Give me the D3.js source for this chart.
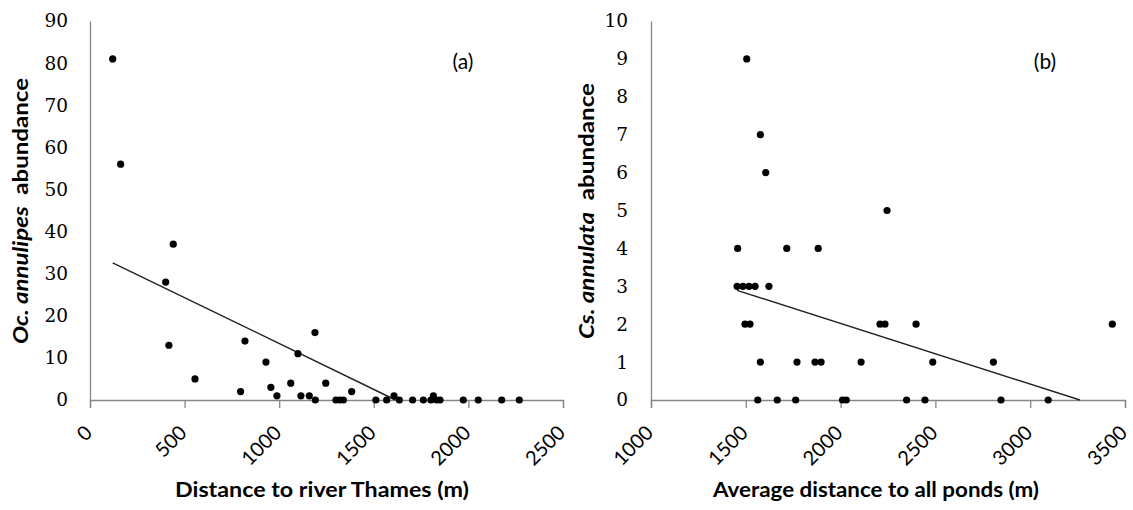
<!DOCTYPE html>
<html>
<head>
<meta charset="utf-8">
<script src="https://cdn.jsdelivr.net/npm/d3@7/dist/d3.min.js"></script>
<style>
  html, body { margin: 0; padding: 0; background: #fff; }
  svg { display: block; }
</style>
</head>
<body>
<svg id="chart" width="1133" height="510"></svg>
<script>
// Panel (a): Oc. annulipes abundance vs distance to river Thames (m)
const thamesDistance = [120, 162, 440, 400, 417, 555, 819, 796, 930, 956, 988, 1061, 1099, 1189, 1115, 1159, 1191, 1246, 1300, 1321, 1339, 1383, 1511, 1568, 1607, 1635, 1705, 1762, 1802, 1815, 1832, 1850, 1973, 2052, 2176, 2269];
const ocAbundance    = [81, 56, 37, 28, 13, 5, 14, 2, 9, 3, 1, 4, 11, 16, 1, 1, 0, 4, 0, 0, 0, 2, 0, 0, 1, 0, 0, 0, 0, 1, 0, 0, 0, 0, 0, 0];
const trendA = { intercept: 35.2, slope: -0.0218 };
const xTicksA = [0, 500, 1000, 1500, 2000, 2500];
const yTicksA = [0, 10, 20, 30, 40, 50, 60, 70, 80, 90];

// Panel (b): Cs. annulata abundance vs average distance to all ponds (m)
const pondDistance = [1505, 1577, 1605, 2245, 1457, 1716, 1882, 1454, 1485, 1517, 1549, 1622, 1496, 1522, 2208, 2234, 2398, 3433, 1577, 1770, 1865, 1897, 2108, 2486, 2806, 1563, 1666, 1763, 2010, 2030, 2348, 2445, 2846, 3095];
const csAbundance  = [9, 7, 6, 5, 4, 4, 4, 3, 3, 3, 3, 3, 2, 2, 2, 2, 2, 2, 1, 1, 1, 1, 1, 1, 1, 0, 0, 0, 0, 0, 0, 0, 0, 0];
const trendB = { intercept: 5.22, slope: -0.0016 };
const xTicksB = [1000, 1500, 2000, 2500, 3000, 3500];
const yTicksB = [0, 1, 2, 3, 4, 5, 6, 7, 8, 9, 10];

const svg = d3.select("#chart");
const axisColor = "#868686";
const plain = d3.format("d");

function drawPanel(cfg) {
  const g = svg.append("g");
  const x = d3.scaleLinear().domain(cfg.xDomain).range(cfg.xRange);
  const y = d3.scaleLinear().domain(cfg.yDomain).range([400, 21]);

  // y axis: line and serif labels, no tick marks
  const yAxis = g.append("g")
    .attr("transform", `translate(${cfg.xRange[0]},0)`)
    .call(d3.axisLeft(y).tickValues(cfg.yTicks).tickFormat(plain).tickSize(0).tickPadding(cfg.yPad));
  yAxis.select(".domain").attr("stroke", axisColor).attr("stroke-width", 1.3);
  yAxis.selectAll("text")
    .attr("font-family", "'DejaVu Serif', serif")
    .attr("font-size", 18.5)
    .attr("fill", "#000");

  // x axis with downward ticks and slanted labels
  const xAxis = g.append("g")
    .attr("transform", "translate(0,400)")
    .call(d3.axisBottom(x).tickValues(cfg.xTicks).tickFormat(plain).tickSizeInner(8).tickSizeOuter(8));
  xAxis.select(".domain").attr("stroke", axisColor).attr("stroke-width", 1.3);
  xAxis.selectAll(".tick line").attr("stroke", axisColor).attr("stroke-width", 1.3);
  xAxis.selectAll("text")
    .attr("font-family", "Lato, 'Open Sans', sans-serif")
    .attr("font-size", 20)
    .attr("fill", "#000")
    .attr("text-anchor", "end")
    .attr("y", 0)
    .attr("dy", "0.35em")
    .attr("transform", "translate(-2,29) rotate(-45)");

  // trend line, clipped where it meets zero
  const tx0 = d3.min(cfg.xs);
  const tx1 = Math.min(d3.max(cfg.xs), -cfg.trend.intercept / cfg.trend.slope);
  const trendPts = [tx0, tx1].map(v => [v, Math.max(0, cfg.trend.intercept + cfg.trend.slope * v)]);
  g.append("path")
    .attr("d", d3.line().x(d => x(d[0])).y(d => y(d[1]))(trendPts))
    .attr("stroke", "#222")
    .attr("stroke-width", 1.4)
    .attr("fill", "none");

  // points
  g.append("g").selectAll("circle")
    .data(cfg.xs.map((v, i) => [v, cfg.ys[i]]))
    .join("circle")
    .attr("cx", d => x(d[0]))
    .attr("cy", d => y(d[1]))
    .attr("r", 3.6)
    .attr("fill", "#000");

  // panel letter
  g.append("text")
    .attr("x", cfg.letterX).attr("y", 69)
    .attr("text-anchor", "middle")
    .attr("font-family", "Lato, 'Open Sans', sans-serif")
    .attr("font-size", 21)
    .text(cfg.letter);

  // x title
  g.append("text")
    .attr("x", cfg.xTitleX).attr("y", 497)
    .attr("text-anchor", "middle")
    .attr("font-family", "Lato, 'Open Sans', sans-serif")
    .attr("font-weight", "bold")
    .attr("font-size", 21)
    .attr("textLength", cfg.xTitleLen)
    .attr("lengthAdjust", "spacingAndGlyphs")
    .text(cfg.xTitle);

  // y title with italic species name
  const yt = g.append("text")
    .attr("transform", `translate(${cfg.yTitleX},${cfg.yTitleY}) rotate(-90)`)
    .attr("text-anchor", "middle")
    .attr("font-family", "Lato, 'Open Sans', sans-serif")
    .attr("font-weight", "bold")
    .attr("font-size", 21)
    .attr("textLength", cfg.yTitleLen)
    .attr("lengthAdjust", "spacingAndGlyphs");
  yt.append("tspan").attr("font-style", "italic").text(cfg.species);
  yt.append("tspan").text("\u00a0 abundance");
}

drawPanel({
  xDomain: [0, 2500], xRange: [90, 563], yDomain: [0, 90],
  xTicks: xTicksA, yTicks: yTicksA, yPad: 22,
  xs: thamesDistance, ys: ocAbundance, trend: trendA,
  letter: "(a)", letterX: 463,
  xTitle: "Distance to river Thames (m)", xTitleX: 322, xTitleLen: 294,
  species: "Oc. annulipes", yTitleX: 28, yTitleY: 211, yTitleLen: 266
});

drawPanel({
  xDomain: [1000, 3500], xRange: [651, 1125], yDomain: [0, 10],
  xTicks: xTicksB, yTicks: yTicksB, yPad: 23,
  xs: pondDistance, ys: csAbundance, trend: trendB,
  letter: "(b)", letterX: 1045,
  xTitle: "Average distance to all ponds (m)", xTitleX: 876, xTitleLen: 326,
  species: "Cs. annulata", yTitleX: 594, yTitleY: 211, yTitleLen: 256
});
</script>
</body>
</html>
